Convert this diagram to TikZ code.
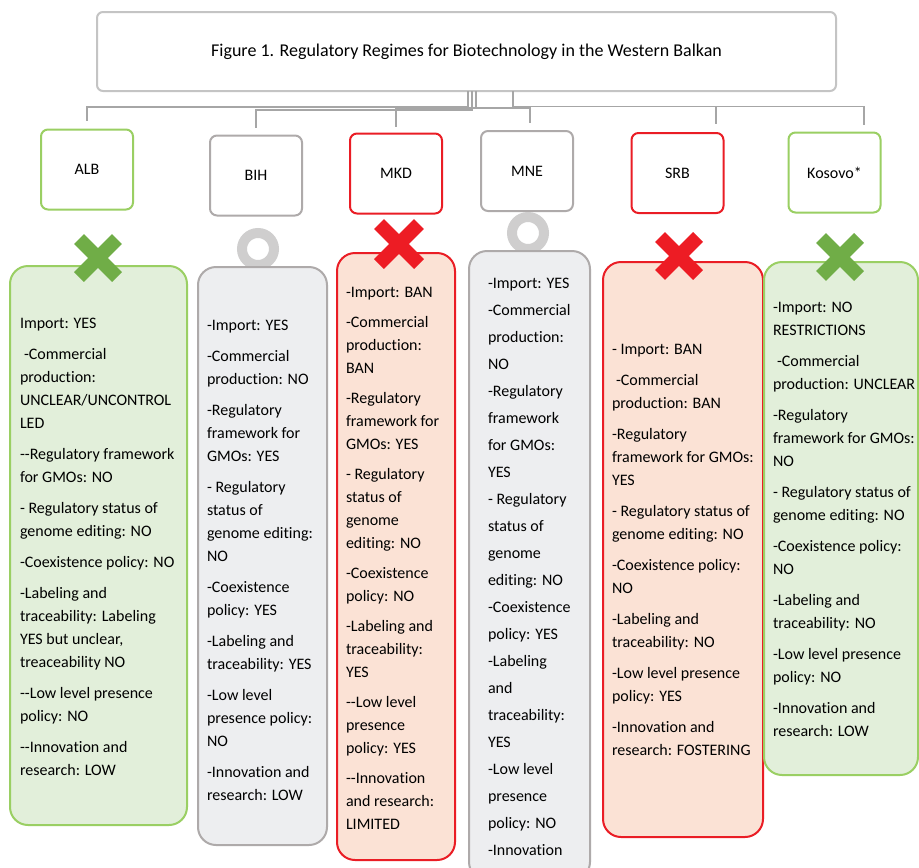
\documentclass[tikz,border=0pt]{standalone}
\usepackage{fontspec}
\setmainfont{Carlito}[Ligatures=CommonOff]
\definecolor{grn}{HTML}{9ACF63}
\definecolor{grnfill}{HTML}{E2EFDA}
\definecolor{grnx}{HTML}{70AD47}
\definecolor{redb}{HTML}{EA1D25}
\definecolor{redfill}{HTML}{FBE2D5}
\definecolor{redx}{HTML}{ED1C24}
\definecolor{gryb}{HTML}{AEAAAA}
\definecolor{gryfill}{HTML}{EDEEF0}
\definecolor{ringcol}{HTML}{CFCECE}
\definecolor{conncol}{HTML}{A6A6A6}
\definecolor{titleb}{HTML}{C4C4C4}
\newcommand\hh{-\kern0pt-}
\begin{document}
\begin{tikzpicture}[x=1pt,y=-1pt,
 every node/.style={inner sep=0pt, outer sep=0pt},
 fs/.style={font=\fontsize{16}{23}\selectfont},
 titlebox/.style={draw=titleb, line width=2pt, rounded corners=6pt, fill=white, minimum width=739pt, minimum height=79pt, font=\fontsize{18}{22}\selectfont},
 topbox/.style={draw, line width=2pt, rounded corners=7pt, fill=white, minimum width=92pt, minimum height=80pt, fs},
 bodybox/.style={draw, line width=2pt, rounded corners=18pt},
 bodytext/.style={anchor=north west, align=left, fs},
 connline/.style={draw=conncol, line width=1.3pt},
 cross/.style={line width=14pt, line cap=butt},
 ringst/.style={draw=ringcol, line width=10pt}
]
\useasboundingbox (0,0) rectangle (919,868);
\fill[white] (0,0) rectangle (919,868);

% title
\node[titlebox] (title) at (466.5,51.5) {Figure 1. Regulatory Regimes for Biotechnology in the Western Balkan};

% connector free ends
\coordinate (e1) at (87,121);
\coordinate (e2) at (256,128);
\coordinate (e3) at (396,127);
\coordinate (e4) at (530,123);
\coordinate (e5) at (716,124);
\coordinate (e6) at (864,125);

\draw[connline] (title.south -| 468,0) |- (e1 |- 0,107) -- (e1);
\draw[connline] (title.south -| 472,0) |- (e2 |- 0,110) -- (e2);
\draw[connline] (title.south -| 476,0) |- (e3 |- 0,108) -- (e3);
\draw[connline] (title.south -| 476,0) |- (e4 |- 0,108) -- (e4);
\draw[connline] (title.south -| 513,0) |- (e5 |- 0,106.5) -- (e5);
\draw[connline] (title.south -| 513,0) |- (e6 |- 0,106.5) -- (e6);

% top boxes
\node[topbox, draw=grn] (alb) at (87,169.5) {ALB};
\node[topbox, draw=gryb] (bih) at (256,175.5) {BIH};
\node[topbox, draw=redb] (mkd) at (396,173.5) {MKD};
\node[topbox, draw=gryb] (mne) at (527,171) {MNE};
\node[topbox, draw=redb] (srb) at (677.5,173) {SRB};
\node[topbox, draw=grn] (kos) at (834.5,172.5) {Kosovo*};

% rings (behind body boxes)
\draw[ringst] (258,249) circle[radius=16pt];
\draw[ringst] (528,233) circle[radius=16pt];

% body boxes
\node[bodybox, draw=grn, fill=grnfill, minimum width=177pt, minimum height=559pt] (albbody) at (98.5,545.5) {};
\node[bodybox, draw=gryb, fill=gryfill, minimum width=129pt, minimum height=578pt] (bihbody) at (262.5,556) {};
\node[bodybox, draw=redb, fill=redfill, minimum width=118pt, minimum height=607pt] (mkdbody) at (396,556.5) {};
\node[bodybox, draw=gryb, fill=gryfill, minimum width=121pt, minimum height=629pt] (mnebody) at (529.5,565.5) {};
\node[bodybox, draw=redb, fill=redfill, minimum width=160pt, minimum height=575pt] (srbbody) at (683,549.5) {};
\node[bodybox, draw=grn, fill=grnfill, minimum width=154pt, minimum height=513pt] (kosbody) at (841,518.5) {};

% crosses
\draw[cross, grnx] (79,239) -- (117,277);
\draw[cross, grnx] (117,239) -- (79,277);
\draw[cross, redx] (379,224) -- (419,264);
\draw[cross, redx] (419,224) -- (379,264);
\draw[cross, redx] (660,237) -- (698,275);
\draw[cross, redx] (698,237) -- (660,275);
\draw[cross, grnx] (821,238) -- (859,276);
\draw[cross, grnx] (859,238) -- (821,276);

% texts
\node[bodytext] (albtext) at (20,312.4) {\strut Import: YES\\[8pt]
\hspace*{4pt}-Commercial\\ production:\\ UNCLEAR/UNCONTROL\\ LED\\[8pt]
\hh Regulatory framework\\ for GMOs: NO\\[8pt]
- Regulatory status of\\ genome editing: NO\\[8pt]
-Coexistence policy: NO\\[8pt]
-Labeling and\\ traceability: Labeling\\ YES but unclear,\\ treaceability NO\\[8pt]
\hh Low level presence\\ policy: NO\\[8pt]
\hh Innovation and\\ research: LOW};

\node[bodytext] (bihtext) at (207,314.4) {\strut -Import: YES\\[8pt]
-Commercial\\ production: NO\\[8pt]
-Regulatory\\ framework for\\ GMOs: YES\\[8pt]
- Regulatory\\ status of\\ genome editing:\\ NO\\[8pt]
-Coexistence\\ policy: YES\\[8pt]
-Labeling and\\ traceability: YES\\[8pt]
-Low level\\ presence policy:\\ NO\\[8pt]
-Innovation and\\ research: LOW};

\node[bodytext] (mkdtext) at (346,281.4) {\strut -Import: BAN\\[7pt]
-Commercial\\ production:\\ BAN\\[7pt]
-Regulatory\\ framework for\\ GMOs: YES\\[7pt]
- Regulatory\\ status of\\ genome\\ editing: NO\\[7pt]
-Coexistence\\ policy: NO\\[7pt]
-Labeling and\\ traceability:\\ YES\\[7pt]
\hh Low level\\ presence\\ policy: YES\\[7pt]
\hh Innovation\\ and research:\\ LIMITED};

\node[bodytext, font=\fontsize{16}{27}\selectfont] (mnetext) at (488,269.6) {\strut -Import: YES\\ -Commercial\\ production:\\ NO\\ -Regulatory\\ framework\\ for GMOs:\\ YES\\ - Regulatory\\ status of\\ genome\\ editing: NO\\ -Coexistence\\ policy: YES\\ -Labeling\\ and\\ traceability:\\ YES\\ -Low level\\ presence\\ policy: NO\\ -Innovation};

\node[bodytext] (srbtext) at (612,338.4) {\strut - Import: BAN\\[8pt]
\hspace*{4pt}-Commercial\\ production: BAN\\[8pt]
-Regulatory\\ framework for GMOs:\\ YES\\[8pt]
- Regulatory status of\\ genome editing: NO\\[8pt]
-Coexistence policy:\\ NO\\[8pt]
-Labeling and\\ traceability: NO\\[8pt]
-Low level presence\\ policy: YES\\[8pt]
-Innovation and\\ research: FOSTERING};

\node[bodytext] (kostext) at (773,296.4) {\strut -Import: NO\\ RESTRICTIONS\\[8pt]
\hspace*{4pt}-Commercial\\ production: UNCLEAR\\[8pt]
-Regulatory\\ framework for GMOs:\\ NO\\[8pt]
- Regulatory status of\\ genome editing: NO\\[8pt]
-Coexistence policy:\\ NO\\[8pt]
-Labeling and\\ traceability: NO\\[8pt]
-Low level presence\\ policy: NO\\[8pt]
-Innovation and\\ research: LOW};
\end{tikzpicture}
\end{document}
